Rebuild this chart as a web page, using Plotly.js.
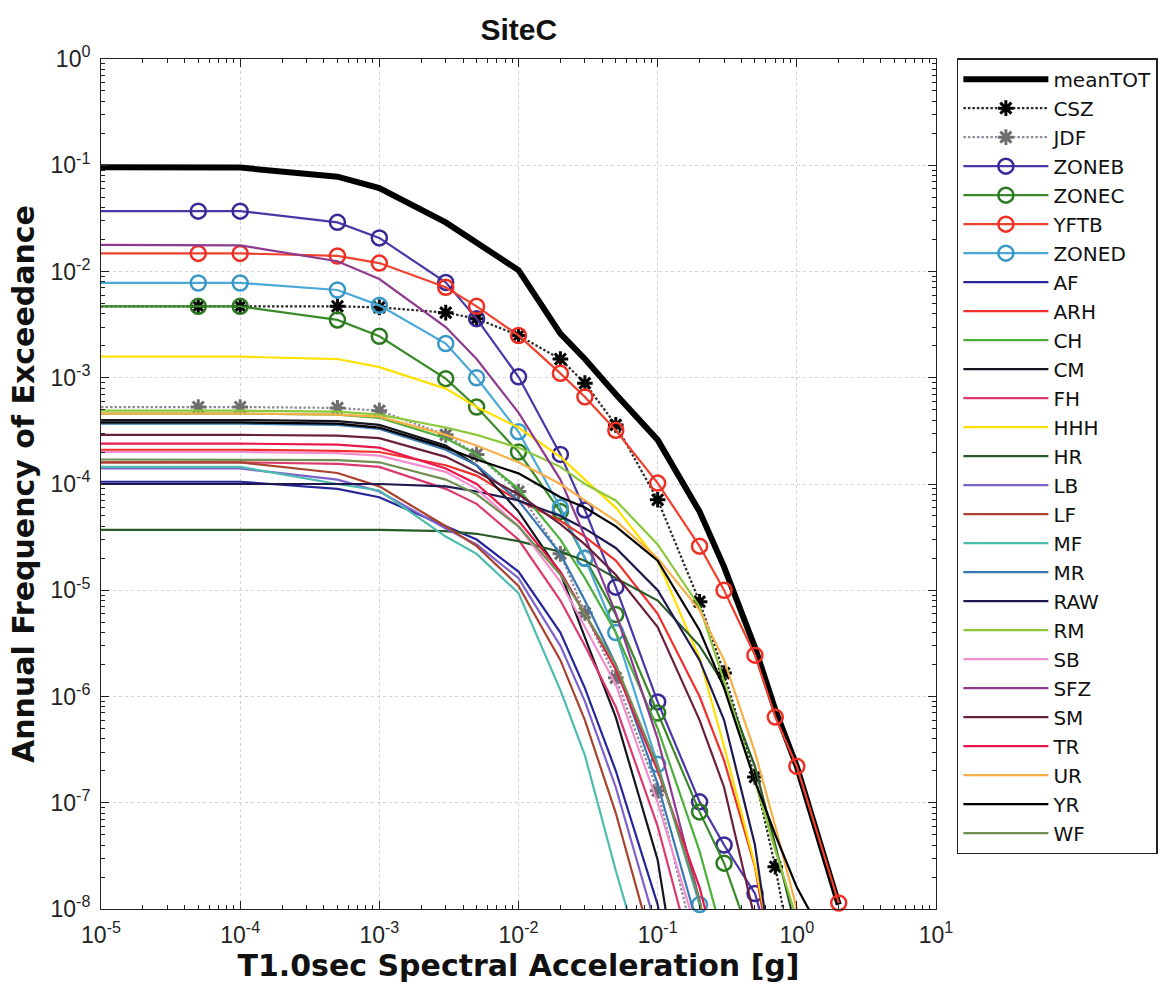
<!DOCTYPE html>
<html><head><meta charset="utf-8">
<script src="https://cdn.plot.ly/plotly-3.0.1.min.js"></script>
<style>html,body{margin:0;padding:0;background:#fff;} #chart{width:1166px;height:993px;}</style>
</head><body><div id="chart"></div>
<script>
// Spectral acceleration sample points [g]
const saValues = [1e-5, 5e-5, 1e-4, 5e-4, 1e-3, 3e-3, 5e-3, 1e-2, 2e-2, 3e-2, 5e-2, 0.1, 0.2, 0.3, 0.5, 0.7, 1, 2];

// Annual frequency of exceedance per source
const meanTOT = [0.096, 0.096, 0.095, 0.078, 0.061, 0.029, 0.0186, 0.0103, 0.0026, 0.0015, 7.0e-4, 2.6e-4, 5.5e-5, 1.66e-5, 2.9e-6, 7.5e-7, 2.2e-7, 1.1e-8];
const CSZ   = [0.0047, 0.0047, 0.0047, 0.0047, 0.0046, 0.0041, 0.0036, 0.0025, 1.5e-3, 8.9e-4, 3.6e-4, 7.1e-5, 7.8e-6, 1.66e-6, 1.75e-7, 2.5e-8, 2e-9, 1e-11];
const JDF   = [5.3e-4, 5.3e-4, 5.3e-4, 5.2e-4, 4.9e-4, 2.9e-4, 1.9e-4, 8.5e-5, 2.2e-5, 6.1e-6, 1.5e-6, 1.3e-7, 3e-9, 1e-10, 1e-11, 1e-12, 1e-13, 1e-14];
const ZONEB = [0.037, 0.037, 0.037, 0.029, 0.0207, 0.0079, 0.0036, 1.02e-3, 1.9e-4, 5.7e-5, 1.07e-5, 8.9e-7, 1.02e-7, 4e-8, 1.4e-8, 3e-9, 5e-10, 1e-12];
const ZONEC = [0.0047, 0.0047, 0.0047, 0.0035, 0.00246, 9.8e-4, 5.3e-4, 2.0e-4, 5.5e-5, 2.0e-5, 5.9e-6, 7e-7, 8.2e-8, 2.7e-8, 4e-9, 5e-10, 1e-11, 1e-13];
const YFTB  = [0.0148, 0.0148, 0.0148, 0.014, 0.012, 0.0071, 0.0047, 0.0025, 1.1e-3, 6.6e-4, 3.2e-4, 1.02e-4, 2.6e-5, 1.0e-5, 2.45e-6, 6.4e-7, 2.2e-7, 1.14e-8];
const ZONED = [0.0078, 0.0078, 0.0078, 0.0067, 0.0048, 0.0021, 1.0e-3, 3.1e-4, 6e-5, 2e-5, 4e-6, 2.3e-7, 1.1e-8, 1e-9, 1e-11, 1e-12, 1e-13, 1e-14];
const AF    = [1.05e-4, 1.05e-4, 1.05e-4, 9e-5, 7.5e-5, 4e-5, 3e-5, 1.5e-5, 4e-6, 1.2e-6, 2e-7, 1.1e-8, 1e-10, 1e-11, 1e-12, 1e-13, 1e-14, 1e-15];
const ARH   = [2.1e-4, 2.1e-4, 2.1e-4, 2.05e-4, 2.0e-4, 1.5e-4, 1.2e-4, 7e-5, 4.5e-5, 3.2e-5, 1.9e-5, 6e-6, 1e-6, 2.5e-7, 2.5e-8, 2e-9, 1e-10, 1e-12];
const CH    = [4.6e-4, 4.6e-4, 4.6e-4, 4.5e-4, 4.2e-4, 2.7e-4, 1.9e-4, 9e-5, 3e-5, 1.3e-5, 4e-6, 5e-7, 3.5e-8, 5e-9, 1e-10, 1e-11, 1e-12, 1e-13];
const CM    = [4.0e-4, 4.0e-4, 4.0e-4, 3.9e-4, 3.6e-4, 2.3e-4, 1.5e-4, 5.5e-5, 1.45e-5, 3.6e-6, 6.4e-7, 2.9e-8, 1e-10, 1e-11, 1e-12, 1e-13, 1e-14, 1e-15];
const FH    = [1.6e-4, 1.6e-4, 1.6e-4, 1.55e-4, 1.45e-4, 9e-5, 6.5e-5, 3e-5, 8e-6, 3e-6, 8e-7, 6e-8, 2e-9, 1e-10, 1e-11, 1e-12, 1e-13, 1e-14];
const HHH   = [1.58e-3, 1.58e-3, 1.58e-3, 1.5e-3, 1.26e-3, 7.9e-4, 5.3e-4, 3.4e-4, 1.8e-4, 1.1e-4, 6e-5, 1.9e-5, 2.3e-6, 3.4e-7, 2.6e-8, 3e-9, 1e-10, 1e-13];
const HR    = [3.7e-5, 3.7e-5, 3.7e-5, 3.7e-5, 3.7e-5, 3.6e-5, 3.4e-5, 2.9e-5, 2.3e-5, 1.9e-5, 1.3e-5, 8e-6, 3e-6, 1.3e-6, 2.2e-7, 4e-8, 6e-9, 1e-11];
const LB    = [1.4e-4, 1.4e-4, 1.4e-4, 1.1e-4, 8.5e-5, 3.8e-5, 2.7e-5, 1.3e-5, 3e-6, 9e-7, 1.4e-7, 6e-9, 1e-10, 1e-11, 1e-12, 1e-13, 1e-14, 1e-15];
const LF    = [1.6e-4, 1.6e-4, 1.6e-4, 1.27e-4, 9.5e-5, 4e-5, 2.6e-5, 1.1e-5, 2.2e-6, 6e-7, 8e-8, 3e-9, 1e-10, 1e-11, 1e-12, 1e-13, 1e-14, 1e-15];
const MF    = [1.45e-4, 1.45e-4, 1.45e-4, 1.0e-4, 8.7e-5, 3.2e-5, 2.2e-5, 9.4e-6, 1.15e-6, 2.8e-7, 2.3e-8, 1e-9, 1e-10, 1e-11, 1e-12, 1e-13, 1e-14, 1e-15];
const MR    = [3.7e-4, 3.7e-4, 3.7e-4, 3.6e-4, 3.3e-4, 2.1e-4, 1.5e-4, 7e-5, 2.2e-5, 8e-6, 2e-6, 1.5e-7, 6e-9, 1e-10, 1e-11, 1e-12, 1e-13, 1e-14];
const RAW   = [1.0e-4, 1.0e-4, 1.0e-4, 1.0e-4, 1.0e-4, 9.5e-5, 8.5e-5, 7e-5, 5e-5, 3.8e-5, 2.5e-5, 1.0e-5, 2.2e-6, 6e-7, 4e-8, 2e-9, 1e-10, 1e-12];
const RM    = [4.9e-4, 4.9e-4, 4.9e-4, 4.8e-4, 4.5e-4, 3.4e-4, 2.9e-4, 2.2e-4, 1.45e-4, 1.0e-4, 7e-5, 2.7e-5, 7e-6, 1.4e-6, 1.6e-7, 3.6e-8, 8e-9, 1e-11];
const SB    = [2.0e-4, 2.0e-4, 2.0e-4, 1.95e-4, 1.85e-4, 1.3e-4, 9e-5, 4e-5, 1.2e-5, 4.5e-6, 1.3e-6, 1e-7, 5e-9, 1e-10, 1e-11, 1e-12, 1e-13, 1e-14];
const SFZ   = [0.0178, 0.0178, 0.0176, 0.0125, 0.0085, 0.003, 1.5e-3, 4.7e-4, 1.1e-4, 3.2e-5, 6.1e-6, 4e-7, 1.2e-8, 1e-9, 1e-10, 1e-11, 1e-12, 1e-13];
const SM    = [2.9e-4, 2.9e-4, 2.9e-4, 2.85e-4, 2.7e-4, 1.8e-4, 1.3e-4, 8e-5, 4.2e-5, 2.7e-5, 1.4e-5, 4.5e-6, 6e-7, 1.4e-7, 8e-9, 1e-10, 1e-11, 1e-12];
const TR    = [2.4e-4, 2.4e-4, 2.4e-4, 2.35e-4, 2.2e-4, 1.4e-4, 1.0e-4, 4.5e-5, 1.5e-5, 6e-6, 1.8e-6, 2e-7, 1.6e-8, 2e-9, 1e-10, 1e-11, 1e-12, 1e-13];
const UR    = [4.6e-4, 4.6e-4, 4.6e-4, 4.5e-4, 4.3e-4, 2.9e-4, 2.3e-4, 1.6e-4, 1.0e-4, 7e-5, 4.5e-5, 2e-5, 6.5e-6, 2.2e-6, 3e-7, 6e-8, 1e-8, 1e-11];
const YR    = [3.8e-4, 3.8e-4, 3.8e-4, 3.7e-4, 3.4e-4, 2.2e-4, 1.7e-4, 1.26e-4, 7.5e-5, 6e-5, 4e-5, 1.9e-5, 4.2e-6, 1.2e-6, 1.6e-7, 5e-8, 1.6e-8, 3e-9];
const WF    = [1.7e-4, 1.7e-4, 1.7e-4, 1.68e-4, 1.6e-4, 1.1e-4, 8e-5, 4e-5, 1.4e-5, 6e-6, 2e-6, 2.2e-7, 1.2e-8, 1e-9, 1e-10, 1e-11, 1e-12, 1e-13];

// Tick labels
const xTickVals = [1e-5, 1e-4, 1e-3, 1e-2, 1e-1, 1, 10];
const xTickText = ['10<sup>-5</sup>', '10<sup>-4</sup>', '10<sup>-3</sup>', '10<sup>-2</sup>', '10<sup>-1</sup>', '10<sup>0</sup>', '10<sup>1</sup>'];
const yTickVals = [1e-8, 1e-7, 1e-6, 1e-5, 1e-4, 1e-3, 1e-2, 1e-1, 1];
const yTickText = ['10<sup>-8</sup>', '10<sup>-7</sup>', '10<sup>-6</sup>', '10<sup>-5</sup>', '10<sup>-4</sup>', '10<sup>-3</sup>', '10<sup>-2</sup>', '10<sup>-1</sup>', '10<sup>0</sup>'];

// Series definitions (name, values, style)
const series = [
  {name: 'meanTOT', y: meanTOT, color: '#000000', width: 6},
  {name: 'CSZ',   y: CSZ,   color: '#2a2a2a', width: 2.2, marker: 'asterisk-open', mcolor: '#000000', dash: '2.5px,2px'},
  {name: 'JDF',   y: JDF,   color: '#8e8a9a', width: 2.2, marker: 'asterisk-open', mcolor: '#6e6e6e', dash: '2.5px,2px'},
  {name: 'ZONEB', y: ZONEB, color: '#4a36a6', width: 2.2, marker: 'circle-open', mcolor: '#3a2896'},
  {name: 'ZONEC', y: ZONEC, color: '#3a8a2a', width: 2.2, marker: 'circle-open', mcolor: '#2c7a20'},
  {name: 'YFTB',  y: YFTB,  color: '#f0402e', width: 2.2, marker: 'circle-open', mcolor: '#ee3024'},
  {name: 'ZONED', y: ZONED, color: '#4aa8d8', width: 2.2, marker: 'circle-open', mcolor: '#3a98c8'},
  {name: 'AF',  y: AF,  color: '#26269a', width: 2.2},
  {name: 'ARH', y: ARH, color: '#f0302a', width: 2.2},
  {name: 'CH',  y: CH,  color: '#4cae3c', width: 2.2},
  {name: 'CM',  y: CM,  color: '#15151f', width: 2.2},
  {name: 'FH',  y: FH,  color: '#dc3a6e', width: 2.2},
  {name: 'HHH', y: HHH, color: '#ffe000', width: 2.2},
  {name: 'HR',  y: HR,  color: '#2a5a2a', width: 2.2},
  {name: 'LB',  y: LB,  color: '#7d62cc', width: 2.2},
  {name: 'LF',  y: LF,  color: '#a8442e', width: 2.2},
  {name: 'MF',  y: MF,  color: '#4cbcae', width: 2.2},
  {name: 'MR',  y: MR,  color: '#3a78b4', width: 2.2},
  {name: 'RAW', y: RAW, color: '#1e1a50', width: 2.2},
  {name: 'RM',  y: RM,  color: '#8cc83a', width: 2.2},
  {name: 'SB',  y: SB,  color: '#f28ed0', width: 2.2},
  {name: 'SFZ', y: SFZ, color: '#8e3a8e', width: 2.2},
  {name: 'SM',  y: SM,  color: '#6a1f3c', width: 2.2},
  {name: 'TR',  y: TR,  color: '#e8184c', width: 2.2},
  {name: 'UR',  y: UR,  color: '#f6b048', width: 2.2},
  {name: 'YR',  y: YR,  color: '#000000', width: 2.2},
  {name: 'WF',  y: WF,  color: '#6f9052', width: 2.2}
];

const yMin = 1e-8;
const traces = series.map(s => {
  const t = {
    type: 'scatter', x: saValues, y: s.y, name: s.name,
    mode: s.marker ? 'lines+markers' : 'lines',
    line: {color: s.color, width: s.width},
    cliponaxis: false
  };
  if (s.dash) t.line.dash = s.dash;
  if (s.marker) {
    const isCircle = s.marker === 'circle-open';
    t.marker = {
      symbol: s.marker, size: isCircle ? 15 : 13, color: s.mcolor,
      line: {color: s.mcolor, width: isCircle ? 2.5 : 3}
    };
    // markers shown only at interior sample points that lie within the y range
    t.selectedpoints = s.y.map((v, i) => i).filter(i => i > 0 && s.y[i] >= 0.97 * yMin);
    t.selected = {marker: {opacity: 1}};
    t.unselected = {marker: {opacity: 0}};
  }
  return t;
});

function minorVals(lo, hi) {
  const out = [];
  for (let d = lo; d < hi; d++) for (let k = 2; k <= 9; k++) out.push(k * Math.pow(10, d));
  return out;
}

const axisCommon = {
  type: 'log', showline: true, linecolor: '#222', linewidth: 1, mirror: 'allticks',
  ticks: 'inside', ticklen: 8, tickcolor: '#222', tickwidth: 1,
  showgrid: true, gridcolor: '#d2d0dc', griddash: 'dot', gridwidth: 1,
  zeroline: false, tickmode: 'array', automargin: false,
  tickfont: {family: 'Liberation Sans, Arial, sans-serif', size: 23, color: '#222'}
};

const layout = {
  width: 1166, height: 993,
  paper_bgcolor: '#ffffff', plot_bgcolor: '#ffffff',
  margin: {l: 101, r: 230, t: 59, b: 84, pad: 0, autoexpand: false},
  title: {text: '<b>SiteC</b>', x: 0.445, xanchor: 'center', y: 0.970, yanchor: 'middle',
          font: {family: 'Liberation Sans, Arial, sans-serif', size: 30, color: '#111'}},
  xaxis: Object.assign({}, axisCommon, {
    range: [-5, 1], tickvals: xTickVals, ticktext: xTickText, ticklabelstandoff: 5,
    minor: {tickmode: 'array', tickvals: minorVals(-5, 1), ticks: 'inside', ticklen: 4, tickcolor: '#222', showgrid: false},
    title: {text: '<b>T1.0sec Spectral Acceleration [g]</b>', standoff: 8,
            font: {family: 'DejaVu Sans, sans-serif', size: 30, color: '#111'}}
  }),
  yaxis: Object.assign({}, axisCommon, {
    range: [-8, 0], tickvals: yTickVals, ticktext: yTickText, ticklabelstandoff: 5,
    minor: {tickmode: 'array', tickvals: minorVals(-8, 0), ticks: 'inside', ticklen: 4, tickcolor: '#222', showgrid: false},
    title: {text: '<b>Annual Frequency of Exceedance</b>', standoff: 6,
            font: {family: 'DejaVu Sans, sans-serif', size: 30, color: '#111'}}
  }),
  showlegend: true,
  legend: {
    x: 1.025, xanchor: 'left', y: 1.001, yanchor: 'top',
    bgcolor: '#ffffff', bordercolor: '#222', borderwidth: 1.5,
    font: {family: 'DejaVu Sans, sans-serif', size: 20, color: '#111'},
    itemwidth: 85, tracegroupgap: 0, maxheight: 900
  }
};

Plotly.newPlot('chart', traces, layout, {displayModeBar: false, staticPlot: true});
</script>
</body></html>
